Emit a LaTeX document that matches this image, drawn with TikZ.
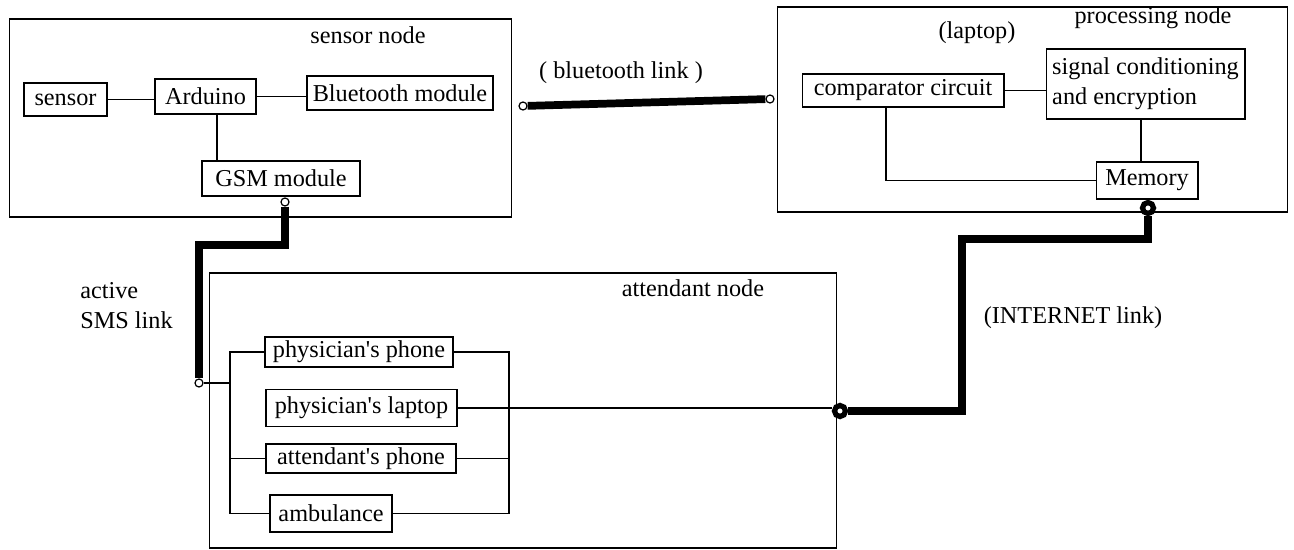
\documentclass[tikz,border=0pt]{standalone}
\usepackage{fontspec}
\setmainfont{Liberation Serif}
\usetikzlibrary{positioning}
\tikzset{block/.style={draw,line width=0.6pt,inner sep=0pt},
         frame/.style={draw,line width=0.6pt,inner sep=0pt},
         lbl/.style={inner sep=0pt},
         wire/.style={line width=0.6pt},
         link/.style={line width=4.4pt},
         pin/.style={circle,draw,fill=white,line width=0.7pt,minimum size=0.16cm,inner sep=0pt},
         bigpin/.style={circle,draw,fill=white,line width=3pt,minimum size=0.22cm,inner sep=0pt},
        }

\begin{document}
\begin{tikzpicture}[x=0.02cm,y=-0.02cm,font=\fontsize{13.8}{17}\selectfont]
        \useasboundingbox (0,0) rectangle (1294,550);
        % sensor node
        \node[frame, minimum width=10.06cm, minimum height=3.96cm](sensnode)at(260.5,118){};
        \node[lbl](sensnodelbl)at(368,35){sensor node};
        \node[block, minimum width=1.66cm, minimum height=0.66cm](sensor)at(65.5,99.5){sensor};
        \node[block, minimum width=2.02cm, minimum height=0.70cm](arduino)at(205.5,96.5){Arduino};
        \node[block, minimum width=3.72cm, minimum height=0.68cm](bt)at(400,93){Bluetooth module};
        \node[block, minimum width=3.16cm, minimum height=0.70cm](gsm)at(281,178.5){GSM module};
        \draw[wire](sensor.east)--(sensor.east -| arduino.west);
        \draw[wire](arduino.east)--(arduino.east -| bt.west);
        \draw[wire]([xshift=0.23cm]arduino.south)--([xshift=0.23cm]arduino.south |- gsm.north);

        % processing node
        \node[frame, minimum width=10.22cm, minimum height=4.10cm](procnode)at(1032.5,109.5){};
        \node[lbl](procnodelbl)at(1153,18){processing node};
        \node[lbl](laptoplbl)at(977,33){(laptop)};
        \node[block, minimum width=4.04cm, minimum height=0.66cm](comp)at(903,90.5){comparator circuit};
        \node[block, minimum width=3.98cm, minimum height=1.40cm, align=left](sig)at(1145.5,84){signal conditioning\\and encryption};
        \node[block, minimum width=2.04cm, minimum height=0.74cm](mem)at(1147,180.5){Memory};
        \draw[wire](comp.east)--(comp.east -| sig.west);
        \draw[wire]([xshift=-0.12cm]mem.north |- sig.south)--([xshift=-0.12cm]mem.north);
        \draw[wire]([xshift=-0.34cm]comp.south)|-(mem.west);

        % attendant node
        \node[frame, minimum width=12.56cm, minimum height=5.50cm](attnode)at(523,410.5){};
        \node[lbl](attnodelbl)at(693,288){attendant node};
        \node[block, minimum width=3.76cm, minimum height=0.60cm](phone)at(359,352){physician\textquotesingle s phone};
        \node[block, minimum width=3.82cm, minimum height=0.74cm](laptop)at(361.5,408){physician\textquotesingle s laptop};
        \node[block, minimum width=3.80cm, minimum height=0.58cm](attphone)at(361,458.5){attendant\textquotesingle s phone};
        \node[block, minimum width=2.44cm, minimum height=0.74cm](amb)at(331,513.5){ambulance};
        \coordinate(lbus)at(230,0);
        \coordinate(rbus)at(509,0);

        % link ends
        \node[pin](btpina)at(523,106){};
        \node[pin](btpinb)at(770,99){};
        \node[pin](gsmpin)at(285,202){};
        \node[pin](smspin)at(199,383){};
        \node[bigpin](mempin)at(1148,208){};
        \node[bigpin](netpin)at(840,411){};

        \draw[wire](phone.west)-|(lbus |- amb.west)--(amb.west);
        \draw[wire](lbus |- attphone.west)--(attphone.west);
        \draw[wire](smspin)--(smspin -| lbus);
        \draw[wire](phone.east)-|(rbus |- amb.east)--(amb.east);
        \draw[wire](attphone.east)--(attphone.east -| rbus);
        \draw[wire](laptop.east)--(laptop.east -| netpin.west);

        % links
        \draw[link](btpina)--(btpinb);
        \node[lbl](btlbl)at(621,73){( bluetooth link )};
        \draw[link](gsmpin)--++(0,43)-|(smspin);
        \node[lbl, align=left, anchor=west](smslbl)at(80,306){active\\SMS link};
        \coordinate(netbend)at(962,411);
        \draw[link](mempin)--++(0,31)-|(netbend)--(netpin);
        \node[lbl](netlbl)at(1073,318){(INTERNET link)};
    \end{tikzpicture}
\end{document}
